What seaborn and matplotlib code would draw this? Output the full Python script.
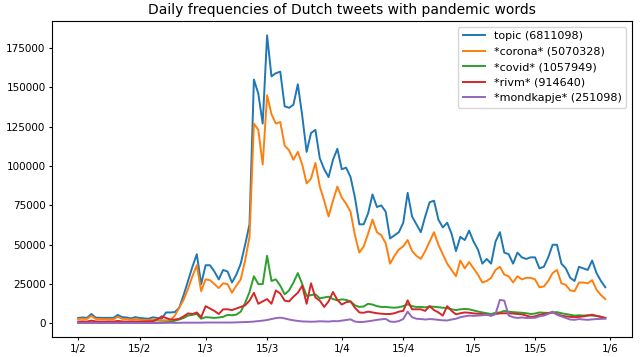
import pandas as pd
import numpy as np
import seaborn as sns
import matplotlib.pyplot as plt

# Dias: 1 fev 2020 ate 31 mai 2020
dias = pd.date_range('2020-02-01', '2020-05-31', freq='D')

topic = [3500, 3800, 3600, 6000, 3700, 3600, 3500, 3600, 3500, 5400,
         4000, 3800, 3200, 4000, 3500, 3200, 3000, 3900, 3500, 3000,
         7000, 7000, 7200, 10000, 18000, 27000, 36000, 44000, 25000, 37000,
         37000, 33000, 28000, 34000, 33000, 26000, 31000, 38000, 50000, 63000,
         155000, 146000, 127000, 183000, 157000, 159000, 160000, 138000, 137000, 139000,
         152000, 132000, 109000, 121000, 123000, 105000, 98000, 93000, 104000, 111000,
         98000, 99000, 93000, 80000, 63000, 63000, 70000, 82000, 74000, 75000,
         71000, 54000, 56000, 58000, 64000, 83000, 68000, 63000, 58000, 68000,
         77000, 78000, 66000, 61000, 64000, 57000, 46000, 55000, 53000, 59000,
         52000, 47000, 38000, 41000, 38000, 52000, 58000, 45000, 44000, 38000,
         45000, 42000, 41000, 42000, 42000, 35000, 36000, 42000, 50000, 50000,
         38000, 35000, 29000, 27000, 36000, 35000, 34000, 40000, 32000, 27000,
         23000]

corona = [2800, 3000, 2900, 4800, 2900, 2800, 2700, 2700, 2600, 4200,
          3000, 2800, 2400, 2800, 2400, 2200, 2100, 2600, 2300, 2000,
          2000, 2000, 5000, 10000, 15000, 22000, 30000, 37000, 20500, 28000,
          27500, 25000, 22500, 25500, 25000, 19500, 24000, 28000, 40000, 55000,
          127000, 123000, 101000, 145000, 133000, 127000, 128000, 113000, 110000, 104000,
          109000, 101000, 89000, 92000, 102000, 87000, 78000, 68000, 78000, 87000,
          80000, 76000, 71000, 56000, 45000, 49000, 57000, 66000, 58000, 56000,
          51000, 38000, 43000, 47000, 49000, 53000, 46000, 43000, 41000, 46000,
          52000, 58000, 50000, 44000, 38000, 34000, 30000, 40000, 35000, 39000,
          35000, 31000, 26000, 27000, 29000, 34000, 36000, 31000, 30000, 26000,
          30000, 28000, 29000, 29000, 28000, 23000, 23500, 27000, 32000, 34000,
          25500, 24500, 21000, 20500, 26000, 26000, 25500, 27500, 21500, 18000,
          15500]

covid = [500, 500, 600, 700, 500, 500, 500, 500, 500, 600,
         500, 500, 500, 500, 500, 500, 500, 600, 600, 700,
         800, 1000, 1800, 2500, 3500, 5000, 5500, 6000, 3000, 4000,
         3800, 3500, 3800, 4200, 5500, 5200, 5600, 7500, 13000, 20000,
         30000, 25000, 25000, 43000, 27000, 28000, 24000, 18500, 21000, 26000,
         32000, 25000, 17500, 18000, 18500, 16000, 16500, 17000, 15500, 14700,
         15300, 15000, 14000, 11500, 10500, 10800, 12500, 12000, 11000, 10500,
         10500, 10200, 10000, 10300, 11000, 12200, 11000, 10500, 10500, 10200,
         10800, 10600, 10300, 10000, 9800, 9000, 8500, 9000, 9200, 9000,
         8300, 7600, 7000, 6500, 6000, 6800, 7000, 8000, 7500, 7200,
         7000, 6800, 6500, 6000, 6300, 7000, 6800, 6700, 7000, 7200,
         6500, 6000, 5500, 5000, 5200, 5000, 5200, 5000, 4800, 4200,
         3500]

rivm = [1200, 1300, 1200, 1800, 1300, 1200, 1200, 1300, 1200, 1600,
        1300, 1200, 1200, 1300, 1200, 1200, 1300, 1500, 2500, 4500,
        3500, 2500, 2500, 3000, 4500, 6400, 6000, 7000, 4000, 11000,
        9500, 8000, 6000, 9000, 9000, 8500, 9500, 10500, 11500, 14500,
        19500, 12500, 14000, 15500, 12500, 21000, 19000, 14500, 14000, 17000,
        19500, 24000, 12500, 25500, 16500, 14500, 10500, 14000, 20000, 15000,
        12000, 13500, 14000, 10000, 7000, 6800, 7500, 7000, 6500, 6200,
        6000, 6000, 6500, 7500, 8000, 14700, 9000, 9000, 9000, 8000,
        11000, 8500, 7000, 5000, 11000, 8000, 5800, 6500, 7000, 6800,
        6400, 6200, 6000, 5500, 5000, 6000, 6400, 6500, 6400, 6300,
        6000, 5800, 5000, 4200, 4500, 5500, 6000, 6500, 7000, 6000,
        5000, 4500, 4200, 4000, 4200, 4500, 5000, 5600, 4800, 4200,
        3500]

mondkapje = [300, 300, 300, 300, 300, 300, 300, 300, 300, 300,
             300, 300, 300, 300, 300, 300, 300, 300, 300, 300,
             400, 400, 400, 400, 500, 500, 500, 500, 500, 600,
             600, 600, 600, 600, 600, 600, 700, 800, 900, 1000,
             1200, 1500, 1800, 2200, 2800, 3400, 3700, 3200, 2500, 2000,
             1600, 1300, 1200, 1100, 1200, 1400, 1300, 1200, 1500, 1400,
             1800, 2200, 2600, 1200, 900, 1000, 1400, 1800, 2300, 2600,
             2900, 1200, 1000, 1500, 2800, 7500, 4000, 3000, 2800, 2500,
             2800, 2600, 2300, 2000, 1900, 2500, 3000, 4000, 4500, 5000,
             4800, 5000, 5200, 5500, 5000, 6000, 15000, 14500, 5000, 4000,
             3500, 3800, 3500, 3500, 3600, 4500, 5000, 6000, 7500, 5500,
             4500, 3500, 2500, 2300, 2800, 2500, 2300, 2600, 2800, 2900,
             3000]

nomes = ['topic (6811098)', '*corona* (5070328)', '*covid* (1057949)',
         '*rivm* (914640)', '*mondkapje* (251098)']

ticks_datas = ['2020-02-01', '2020-02-15', '2020-03-01', '2020-03-15', '2020-04-01',
               '2020-04-15', '2020-05-01', '2020-05-15', '2020-06-01']
ticks_labels = ['1/2', '15/2', '1/3', '15/3', '1/4', '15/4', '1/5', '15/5', '1/6']

# Tabela longa para o seaborn
df = pd.concat([
    pd.DataFrame({'dia': dias, 'freq': serie, 'woord': nome})
    for serie, nome in zip([topic, corona, covid, rivm, mondkapje], nomes)
])

fig = plt.figure(figsize=(6.4, 3.57), dpi=100)
ax = fig.add_axes([0.081, 0.055, 0.906, 0.886])
sns.lineplot(data=df, x='dia', y='freq', hue='woord', palette='tab10', linewidth=1.4, ax=ax)

ax.set_xticks(pd.to_datetime(ticks_datas))
ax.set_xticklabels(ticks_labels)
ax.tick_params(labelsize=7.5, length=2.5, pad=2)
ax.set_xlabel('')
ax.set_ylabel('')
ax.set_title('Daily frequencies of Dutch tweets with pandemic words', fontsize=10, pad=5)
sns.move_legend(ax, 'upper right', title=None, fontsize=8)

fig.savefig('out.png', dpi=100)
